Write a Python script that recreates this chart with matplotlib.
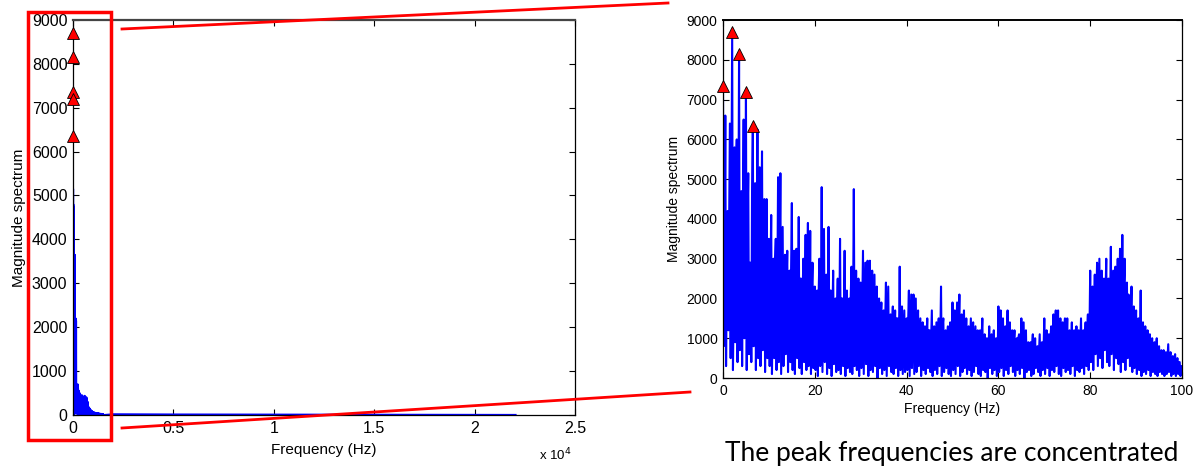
import numpy as np
import matplotlib
matplotlib.use("Agg")
import matplotlib.pyplot as plt
from matplotlib.patches import Rectangle
from matplotlib.lines import Line2D

plt.rcParams['font.family'] = ['Liberation Sans', 'DejaVu Sans']

# --- spectrum 0-100 Hz (0.5 Hz bins) ---
# spikes at 0, 0.5, 1.0 ... 99.5 Hz
peak_mag = [
    7350, 6600, 4200, 6400, 8700, 5800, 6000, 8150, 4700, 6500,
    7200, 5150, 2900, 6350, 4900, 6250, 5300, 5700, 4500, 4500,
    3500, 4100, 3000, 3500, 5050, 5150, 3800, 3100, 3200, 2700,
    4400, 3200, 3250, 4050, 2500, 3000, 3600, 3900, 3700, 2900,
    2300, 2200, 3000, 4800, 3750, 2600, 3800, 2200, 2700, 2000,
    2500, 3500, 2000, 3200, 2200, 2000, 2800, 4750, 2700, 2500,
    2400, 3200, 2900, 2950, 2950, 2700, 2600, 2300, 2000, 1900,
    1700, 2400, 2300, 1600, 1800, 1700, 1500, 2800, 1800, 1700,
    1500, 2200, 2100, 2100, 2000, 1700, 1500, 1400, 1300, 1500,
    1200, 1700, 1300, 1400, 1500, 2300, 1500, 1200, 1300, 1400,
    1900, 1700, 1900, 2100, 1600, 1700, 1500, 1300, 1500, 1400,
    1300, 1200, 1200, 1500, 1100, 1000, 1300, 1100, 1200, 1000,
    1800, 1700, 1500, 1300, 1700, 1400, 1200, 1200, 1000, 1100,
    1500, 1400, 1200, 900, 900, 1100, 1000, 800, 1100, 900,
    1500, 1200, 1100, 1300, 1600, 1700, 1700, 1500, 1400, 1500,
    1500, 1200, 1400, 1200, 1300, 1200, 1500, 1200, 1400, 1600,
    2700, 2300, 2600, 2900, 3000, 2700, 2500, 3000, 2500, 3300,
    2700, 2800, 3000, 3250, 3600, 3000, 2400, 2000, 2300, 1800,
    1700, 1500, 2200, 1400, 1300, 1200, 1100, 1000, 900, 1000,
    800, 700, 700, 650, 850, 650, 550, 600, 500, 400,
]
# bottom of the noise, 1/6 Hz after each spike
low_mag = [
    800, 300, 1200, 500, 200, 900, 400, 700, 300, 1000,
    200, 600, 400, 800, 200, 500, 300, 700, 150, 500,
    300, 100, 500, 200, 400, 100, 300, 600, 150, 400,
    200, 100, 500, 250, 100, 400, 200, 300, 100, 250,
    200, 50, 300, 150, 400, 100, 250, 50, 350, 150,
    200, 100, 300, 50, 250, 150, 100, 300, 200, 50,
    250, 100, 350, 50, 200, 150, 300, 0, 250, 100,
    200, 50, 300, 150, 100, 250, 50, 200, 100, 150,
    200, 50, 250, 100, 150, 300, 50, 200, 100, 250,
    150, 50, 200, 100, 300, 50, 150, 250, 100, 50,
    200, 100, 300, 50, 150, 250, 100, 200, 50, 150,
    300, 100, 50, 200, 150, 0, 250, 100, 200, 50,
    150, 250, 50, 200, 100, 300, 150, 50, 200, 100,
    250, 0, 150, 200, 50, 100, 250, 150, 50, 200,
    100, 250, 50, 200, 150, 300, 100, 50, 250, 150,
    200, 100, 300, 50, 200, 150, 250, 100, 300, 200,
    400, 200, 600, 300, 500, 250, 700, 400, 300, 600,
    200, 500, 350, 150, 400, 200, 500, 300, 150, 250,
    100, 200, 50, 150, 100, 200, 50, 150, 100, 50,
    150, 100, 50, 100, 150, 50, 100, 50, 100, 50,
]
# top of the dense body, 1/3 Hz after each spike
mid_mag = [
    3000, 2600, 3800, 4500, 2000, 5200, 3400, 2600, 4200, 3000,
    3800, 2900, 4800, 3100, 2600, 4000, 3500, 3000, 2700, 3400,
    2500, 1800, 2900, 2200, 3000, 1900, 2600, 2300, 1800, 2700,
    2100, 2400, 1700, 2500, 2000, 1800, 2300, 1600, 2200, 1900,
    1700, 2100, 1500, 2000, 1800, 1600, 2200, 1500, 1900, 1700,
    1400, 2000, 1600, 1800, 1500, 2100, 1700, 1400, 1900, 1600,
    1800, 1500, 2000, 1400, 1700, 1300, 1600, 1200, 1500, 1100,
    1400, 1200, 900, 1300, 1100, 1500, 1000, 1200, 900, 1300,
    1400, 1100, 1500, 1000, 1200, 900, 1100, 800, 1000, 1200,
    900, 1100, 800, 1000, 900, 1300, 800, 1000, 700, 900,
    1200, 1000, 1300, 900, 1100, 800, 1000, 900, 1200, 700,
    900, 800, 1000, 700, 900, 600, 800, 700, 900, 600,
    1100, 900, 1000, 800, 1100, 700, 900, 800, 1000, 600,
    800, 900, 700, 600, 800, 500, 700, 600, 800, 700,
    900, 700, 1000, 800, 1100, 900, 1000, 800, 1200, 900,
    1000, 800, 1100, 900, 1000, 800, 1100, 900, 1200, 1100,
    1800, 1500, 2000, 1700, 1900, 1600, 2100, 1800, 2000, 1700,
    2200, 1900, 2000, 1600, 2300, 1800, 2100, 1500, 1400, 1200,
    1100, 900, 1000, 800, 900, 700, 800, 600, 700, 600,
    650, 500, 600, 450, 500, 400, 450, 350, 400, 300,
]

# 100-1500 Hz, 20 Hz bins (only visible in the full-range panel)
hf_high = [
    3650, 1350, 2200, 2150, 700, 650, 500, 700, 600, 450,
    550, 400, 500, 480, 350, 450, 400, 300, 450, 380,
    420, 300, 400, 350, 440, 300, 420, 380, 300, 400,
    350, 250, 300, 200, 180, 150, 160, 120, 130, 100,
    110, 90, 80, 90, 70, 60, 70, 55, 60, 50,
    55, 45, 50, 40, 45, 40, 42, 35, 40, 38,
    35, 30, 32, 30, 28, 30, 25, 28, 25, 22, 25,
]
hf_low = [
    200, 100, 50, 150, 30, 80, 20, 60, 10, 40,
    20, 50, 10, 30, 20, 40, 10, 30, 20, 10,
    30, 10, 20, 10, 30, 10, 20, 10, 20, 10,
    15, 10, 20, 5, 10, 5, 10, 5, 10, 5,
    8, 5, 4, 6, 3, 5, 4, 3, 5, 2,
    4, 3, 2, 4, 2, 3, 2, 3, 2, 2,
    3, 2, 1, 2, 1, 2, 1, 2, 1, 1, 1,
]
tail_freq = [2000, 5000, 10000, 15000, 20000, 22050]
tail_mag = [20, 15, 12, 10, 8, 5]

# detected peaks
peak_freq = [0, 2.0, 3.5, 5.0, 6.5]
peak_val = [7350, 8700, 8150, 7200, 6350]

# build the lines: each 0.5 Hz bin holds spike, bottom, body
n = len(peak_mag)
lo_freq = np.arange(3 * n) / 6.0
lo_mag = np.empty(3 * n)
lo_mag[0::3] = peak_mag
lo_mag[1::3] = low_mag
lo_mag[2::3] = mid_mag

m = min(len(hf_high), len(hf_low))
hf_freq = 100 + 10 * np.arange(2 * m)
hf_mag = np.empty(2 * m)
hf_mag[0::2] = hf_high[:m]
hf_mag[1::2] = hf_low[:m]

full_freq = np.concatenate([lo_freq, hf_freq, tail_freq])
full_mag = np.concatenate([lo_mag, hf_mag, tail_mag])

fig = plt.figure(figsize=(12, 4.66), dpi=100)


def style(ax, fs):
    ax.tick_params(direction='in', top=True, right=True, length=4,
                   width=0.8, labelsize=fs, pad=4)
    for s in ax.spines.values():
        s.set_linewidth(0.9)
        s.set_color('black')


# --- left: full range ---
ax1 = fig.add_axes([0.0608, 0.1094, 0.4183, 0.848])
ax1.plot(full_freq, full_mag, color='blue', linewidth=1.3, zorder=2)
ax1.plot(peak_freq, peak_val, linestyle='none', marker='^', markersize=8,
         markerfacecolor='red', markeredgecolor='black',
         markeredgewidth=0.6, zorder=3, clip_on=False)
ax1.set_xlim(0, 25000)
ax1.set_ylim(0, 9000)
ax1.set_xticks([0, 5000, 10000, 15000, 20000, 25000])
ax1.set_xticklabels(['0', '0.5', '1', '1.5', '2', '2.5'])
ax1.set_yticks(range(0, 9001, 1000))
style(ax1, 11.5)
ax1.spines['top'].set_color('#444444')
ax1.spines['top'].set_linewidth(1.6)
ax1.set_xlabel('Frequency (Hz)', fontsize=11, labelpad=5)
ax1.set_ylabel('Magnitude spectrum', fontsize=11, labelpad=4)
fig.text(0.449, 0.012, 'x 10$^4$', fontsize=9.5)

# --- right: 0-100 Hz ---
ax2 = fig.add_axes([0.6025, 0.1888, 0.3825, 0.768])
ax2.plot(lo_freq, lo_mag, color='blue', linewidth=1.5, zorder=2)
ax2.plot(peak_freq, peak_val, linestyle='none', marker='^', markersize=8,
         markerfacecolor='red', markeredgecolor='black',
         markeredgewidth=0.6, zorder=3, clip_on=False)
ax2.set_xlim(0, 100)
ax2.set_ylim(0, 9000)
ax2.set_xticks(range(0, 101, 20))
ax2.set_yticks(range(0, 9001, 1000))
style(ax2, 10)
ax2.spines['top'].set_linewidth(1.4)
ax2.set_xlabel('Frequency (Hz)', fontsize=10, labelpad=3)
ax2.set_ylabel('Magnitude spectrum', fontsize=10, labelpad=4)

# zoom box and connecting lines (pixel coords -> figure fraction)
W, H = 1200, 466
fig.patches.append(Rectangle((28 / W, 1 - 440 / H), 83 / W, 428 / H,
                             transform=fig.transFigure, fill=False,
                             edgecolor='red', linewidth=2.5))
fig.lines.append(Line2D([122 / W, 668 / W], [1 - 29 / H, 1 - 3 / H],
                        transform=fig.transFigure, color='red', linewidth=2))
fig.lines.append(Line2D([122 / W, 690 / W], [1 - 428 / H, 1 - 392 / H],
                        transform=fig.transFigure, color='red', linewidth=2))

fig.text(725 / W, 1 - 461 / H, 'The peak frequencies are concentrated',
         fontsize=19, family=['Lato', 'DejaVu Sans'], va='baseline')

fig.savefig('out.png', dpi=100)
